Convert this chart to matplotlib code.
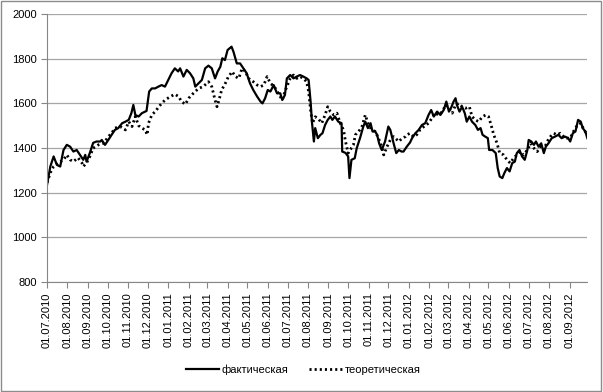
import numpy as np
import pandas as pd
import matplotlib
matplotlib.use("Agg")
import matplotlib.pyplot as plt
import matplotlib.dates as mdates
from matplotlib.patches import Rectangle

# days counted from 01.07.2010
start = pd.Timestamp("2010-07-01")

fact_day = [0, 5, 10, 12, 15, 20, 25, 30, 35, 40, 45, 50, 55, 58, 60, 65, 70, 75, 81, 83,
            88, 93, 98, 103, 108, 114, 119, 124, 128, 131, 134, 139, 144, 151, 155, 159, 164, 169, 174, 179,
            184, 189, 194, 199, 202, 207, 212, 217, 222, 225, 230, 235, 240, 245, 250, 255, 259, 263, 266, 270,
            274, 280, 283, 288, 293, 298, 303, 308, 313, 319, 324, 327, 331, 335, 339, 344, 349, 354, 357, 361,
            364, 369, 374, 379, 384, 389, 394, 397, 400, 402, 405, 407, 411, 415, 418, 422, 426, 430, 433, 437,
            442, 447, 448, 453, 457, 459, 462, 467, 470, 475, 480, 483, 487, 491, 494, 498, 501, 504, 508, 513,
            518, 521, 526, 530, 534, 538, 541, 546, 551, 554, 559, 564, 569, 574, 579, 583, 587, 592, 597, 602,
            606, 610, 614, 617, 620, 622, 626, 630, 634, 637, 641, 645, 650, 654, 658, 661, 665, 669, 671, 676,
            681, 684, 687, 691, 694, 698, 702, 706, 710, 713, 717, 721, 725, 729, 731, 735, 739, 742, 746, 750,
            754, 757, 761, 766, 771, 776, 781, 786, 791, 794, 798, 802, 806, 810, 813, 817, 820]
fact_val = [1235, 1317, 1362, 1347, 1324, 1317, 1391, 1414, 1406, 1384, 1391, 1369, 1347, 1369, 1339, 1378, 1423, 1429, 1429, 1436,
            1414, 1436, 1459, 1481, 1489, 1511, 1518, 1526, 1556, 1593, 1548, 1541, 1556, 1566, 1653, 1667, 1667, 1675, 1682, 1675,
            1705, 1735, 1757, 1743, 1757, 1720, 1750, 1735, 1712, 1675, 1690, 1705, 1757, 1769, 1757, 1712, 1743, 1764, 1802, 1794,
            1839, 1854, 1831, 1779, 1779, 1757, 1735, 1690, 1660, 1630, 1608, 1600, 1623, 1660, 1653, 1682, 1645, 1645, 1615, 1637,
            1712, 1727, 1712, 1720, 1727, 1720, 1712, 1705, 1608, 1518, 1429, 1489, 1444, 1459, 1466, 1503, 1526, 1541, 1526, 1541,
            1518, 1511, 1384, 1378, 1362, 1265, 1347, 1354, 1399, 1444, 1496, 1518, 1489, 1511, 1474, 1474, 1459, 1421, 1391, 1429,
            1496, 1481, 1421, 1377, 1391, 1384, 1384, 1406, 1425, 1444, 1466, 1481, 1503, 1511, 1548, 1570, 1541, 1563, 1548, 1570,
            1608, 1563, 1585, 1608, 1623, 1593, 1563, 1585, 1556, 1518, 1541, 1518, 1503, 1481, 1489, 1459, 1451, 1444, 1391, 1391,
            1377, 1310, 1272, 1265, 1287, 1310, 1295, 1332, 1339, 1377, 1391, 1362, 1347, 1391, 1436, 1429, 1414, 1429, 1406, 1421,
            1377, 1406, 1421, 1444, 1451, 1459, 1444, 1451, 1444, 1429, 1466, 1474, 1526, 1518, 1489, 1474, 1444]

theo_day = [0, 5, 10, 17, 25, 30, 35, 40, 47, 53, 55, 60, 65, 70, 78, 86, 93, 98, 103, 111,
            119, 124, 129, 134, 139, 144, 149, 152, 154, 159, 164, 172, 179, 187, 194, 200, 204, 210, 215, 222,
            230, 237, 245, 250, 255, 258, 261, 265, 270, 275, 281, 286, 291, 296, 301, 306, 313, 319, 324, 329,
            334, 339, 345, 351, 357, 361, 369, 374, 379, 384, 389, 394, 397, 400, 403, 407, 412, 417, 422, 426,
            430, 435, 440, 445, 450, 453, 457, 460, 465, 468, 473, 478, 483, 488, 493, 498, 503, 508, 511, 516,
            521, 526, 534, 539, 544, 546, 551, 556, 561, 566, 572, 579, 584, 589, 594, 600, 605, 610, 615, 620,
            625, 630, 635, 641, 645, 650, 655, 661, 666, 670, 674, 678, 683, 687, 693, 698, 703, 708, 713, 718,
            723, 729, 734, 739, 744, 749, 754, 759, 764, 769, 774, 779, 784, 789, 794, 799, 805, 810, 815, 820]
theo_val = [1245, 1289, 1317, 1333, 1347, 1369, 1347, 1339, 1356, 1333, 1317, 1333, 1362, 1399, 1414, 1421, 1451, 1466, 1489, 1496,
            1481, 1518, 1496, 1541, 1500, 1489, 1481, 1459, 1511, 1548, 1563, 1593, 1615, 1630, 1641, 1630, 1608, 1596, 1623, 1645,
            1667, 1675, 1697, 1675, 1615, 1585, 1615, 1660, 1686, 1718, 1742, 1720, 1712, 1757, 1742, 1712, 1697, 1682, 1675, 1682,
            1720, 1690, 1675, 1645, 1615, 1653, 1712, 1727, 1712, 1720, 1712, 1697, 1653, 1570, 1511, 1540, 1530, 1511, 1548, 1585,
            1563, 1548, 1556, 1511, 1481, 1429, 1377, 1391, 1414, 1459, 1474, 1496, 1548, 1503, 1481, 1474, 1444, 1406, 1369, 1406,
            1436, 1451, 1429, 1444, 1451, 1459, 1466, 1451, 1459, 1481, 1496, 1511, 1533, 1556, 1548, 1563, 1593, 1578, 1556, 1593,
            1600, 1585, 1578, 1585, 1541, 1526, 1518, 1541, 1548, 1541, 1503, 1459, 1421, 1377, 1369, 1347, 1332, 1354, 1369, 1384,
            1369, 1391, 1421, 1399, 1384, 1406, 1391, 1429, 1451, 1466, 1459, 1466, 1451, 1444, 1444, 1474, 1503, 1511, 1481, 1459]

fact_dates = start + pd.to_timedelta(fact_day, unit="D")
theo_dates = start + pd.to_timedelta(theo_day, unit="D")

plt.rcParams["font.family"] = ["Liberation Sans", "DejaVu Sans"]

fig = plt.figure(figsize=(6.03, 3.92), dpi=100)
ax = fig.add_axes([0.078, 0.281, 0.896, 0.683])

ax.plot(fact_dates, fact_val, color="black", lw=1.6, label="фактическая")
ax.plot(theo_dates, theo_val, color="black", lw=2.0, linestyle=(0, (0.75, 1.1)),
        dash_capstyle="butt", label="теоретическая")

ax.set_ylim(800, 2000)
ax.set_yticks(range(800, 2001, 200))
ax.set_xlim(start, fact_dates[-1])
ax.xaxis.set_major_locator(mdates.MonthLocator())
ax.xaxis.set_major_formatter(mdates.DateFormatter("%d.%m.%Y"))
plt.setp(ax.get_xticklabels(), rotation=90)

ax.grid(axis="y", color="#a6a6a6", lw=0.9)
ax.set_axisbelow(True)
for s in ["top", "right"]:
    ax.spines[s].set_visible(False)
for s in ["left", "bottom"]:
    ax.spines[s].set_color("#868686")
ax.tick_params(axis="both", colors="#868686", labelcolor="black", labelsize=8, length=4)

fig.legend(loc="center", bbox_to_anchor=(0.503, 0.056), ncol=2, frameon=False,
           fontsize=8, handlelength=3.0, handletextpad=0.25, columnspacing=1.8)

fig.add_artist(Rectangle((0.002, 0.003), 0.995, 0.994, transform=fig.transFigure,
                         fill=False, edgecolor="#8c8c8c", lw=1))

fig.savefig("out.png", dpi=100)
